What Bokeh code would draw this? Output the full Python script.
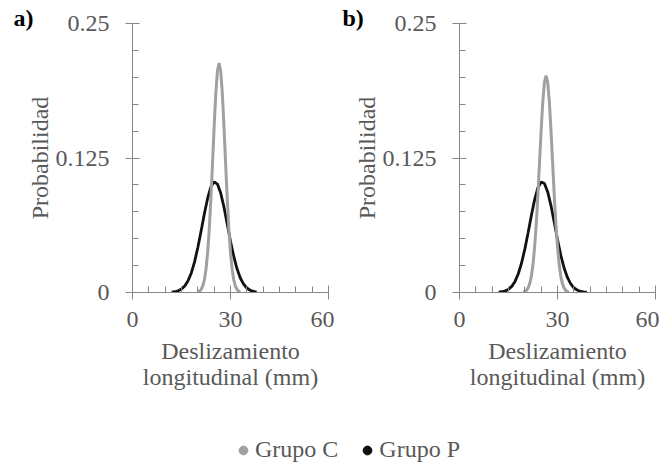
from bokeh.plotting import figure
from bokeh.models import (Range1d, FixedTicker, CustomJSTickFormatter, Title,
                          Legend, LegendItem)
from bokeh.layouts import row, column
from bokeh.embed import file_html
from bokeh.resources import INLINE

# ---------------- data ----------------
x_ticks = [0, 30, 60]
x_minor = [0, 5, 10, 15, 20, 25, 30, 35, 40, 45, 50, 55, 60]
y_ticks = [0, 0.125, 0.25]
y_minor = [0, 0.025, 0.05, 0.075, 0.1, 0.125, 0.15, 0.175, 0.2, 0.225, 0.25]

# Panel a) Grupo C
a_c_x = [20, 20.5, 21, 21.5, 22, 22.5, 23, 23.5, 24, 24.5, 25, 25.5, 26, 26.5,
         27, 27.5, 28, 28.5, 29, 29.5, 30, 30.5, 31, 31.5, 32, 32.5, 33]
a_c_y = [0.0005, 0.0012, 0.0028, 0.0060, 0.0118, 0.0217, 0.0370, 0.0589, 0.0873,
         0.1204, 0.1546, 0.1849, 0.2058, 0.2133, 0.2058, 0.1849, 0.1546, 0.1204,
         0.0873, 0.0589, 0.0370, 0.0217, 0.0118, 0.0060, 0.0028, 0.0012, 0.0005]
# Panel a) Grupo P
a_p_x = [12, 13, 14, 15, 16, 17, 18, 19, 20, 21, 22, 23, 24, 25, 26, 27, 28, 29,
         30, 31, 32, 33, 34, 35, 36, 37, 38]
a_p_y = [0.0003, 0.0007, 0.0016, 0.0032, 0.0061, 0.0109, 0.0182, 0.0285, 0.0418,
         0.0572, 0.0732, 0.0876, 0.0982, 0.1029, 0.1008, 0.0924, 0.0793, 0.0636,
         0.0477, 0.0335, 0.0220, 0.0135, 0.0078, 0.0042, 0.0021, 0.0010, 0.0004]
# Panel b) Grupo C
b_c_x = [19.5, 20, 20.5, 21, 21.5, 22, 22.5, 23, 23.5, 24, 24.5, 25, 25.5, 26,
         26.5, 27, 27.5, 28, 28.5, 29, 29.5, 30, 30.5, 31, 31.5, 32, 32.5, 33, 33.5]
b_c_y = [0.0004, 0.0009, 0.0020, 0.0043, 0.0083, 0.0152, 0.0262, 0.0423, 0.0639,
         0.0908, 0.1210, 0.1512, 0.1774, 0.1952, 0.2015, 0.1952, 0.1774, 0.1512,
         0.1210, 0.0908, 0.0639, 0.0423, 0.0262, 0.0152, 0.0083, 0.0043, 0.0020,
         0.0009, 0.0004]
# Panel b) Grupo P
b_p_x = [12, 13, 14, 15, 16, 17, 18, 19, 20, 21, 22, 23, 24, 25, 26, 27, 28, 29,
         30, 31, 32, 33, 34, 35, 36, 37, 38, 39]
b_p_y = [0.0003, 0.0007, 0.0015, 0.0030, 0.0057, 0.0103, 0.0174, 0.0274, 0.0403,
         0.0556, 0.0716, 0.0863, 0.0974, 0.1027, 0.1013, 0.0935, 0.0808, 0.0652,
         0.0493, 0.0348, 0.0230, 0.0142, 0.0082, 0.0044, 0.0023, 0.0011, 0.0005,
         0.0002]

series_names = ["Grupo C", "Grupo P"]
panel_tags = ["a)", "b)"]
x_title = "Deslizamiento\nlongitudinal (mm)"
y_title = "Probabilidad"

# ---------------- styles ----------------
FONT = "Liberation Serif"
TXT = "#595959"
AXC = "#868686"
C_COL = "#a0a0a0"
P_COL = "#111111"


def panel(tag, tag_off, cx, cy, px, py, width, left, right):
    p = figure(width=width, height=400, output_backend="svg", toolbar_location=None,
               x_range=Range1d(0, 60), y_range=Range1d(0, 0.25),
               min_border_left=left, min_border_right=right,
               min_border_top=23, min_border_bottom=108)
    p.title = Title(text=tag, align="left", offset=tag_off, standoff=-14,
                    text_font=FONT, text_font_size="24px",
                    text_font_style="bold", text_color="black")
    p.outline_line_color = None
    p.xgrid.visible = False
    p.ygrid.visible = False
    p.xaxis.ticker = FixedTicker(ticks=x_ticks, minor_ticks=x_minor)
    p.yaxis.ticker = FixedTicker(ticks=y_ticks, minor_ticks=y_minor)
    fmt = CustomJSTickFormatter(code="return String(tick)")
    p.xaxis.formatter = fmt
    p.yaxis.formatter = fmt
    for ax in (p.xaxis, p.yaxis):
        ax.axis_line_color = AXC
        ax.major_tick_line_color = AXC
        ax.minor_tick_line_color = AXC
        ax.major_tick_in = 7
        ax.major_tick_out = 7
        ax.minor_tick_in = 6
        ax.minor_tick_out = 0
        ax.major_label_text_font = FONT
        ax.major_label_text_font_size = "24px"
        ax.major_label_text_color = TXT
        ax.axis_label_text_font = FONT
        ax.axis_label_text_font_size = "24px"
        ax.axis_label_text_font_style = "normal"
        ax.axis_label_text_color = TXT
    p.xaxis.axis_label = x_title
    p.yaxis.axis_label = y_title
    p.xaxis.axis_label_text_line_height = 1.0
    p.xaxis.major_label_standoff = 12
    p.yaxis.major_label_standoff = 16
    p.xaxis.axis_label_standoff = 8
    p.yaxis.axis_label_standoff = 0
    p.line(px, py, line_color=P_COL, line_width=2.8)
    p.line(cx, cy, line_color=C_COL, line_width=3)
    return p


pA = panel(panel_tags[0], -119, a_c_x, a_c_y, a_p_x, a_p_y, 334, 132, 6)
pB = panel(panel_tags[1], -117, b_c_x, b_c_y, b_p_x, b_p_y, 325, 125, 4)

pL = figure(width=659, height=64, output_backend="svg", toolbar_location=None,
            x_range=Range1d(0, 1), y_range=Range1d(0, 1),
            x_axis_location=None, y_axis_location=None, min_border=0)
pL.outline_line_color = None
pL.xgrid.visible = False
pL.ygrid.visible = False
rc = pL.scatter(x=[-10], y=[-10], marker="circle", size=9,
                fill_color=C_COL, line_color=C_COL)
rp = pL.scatter(x=[-10], y=[-10], marker="circle", size=9,
                fill_color=P_COL, line_color=P_COL)
leg = Legend(items=[LegendItem(label=series_names[0], renderers=[rc]),
                    LegendItem(label=series_names[1], renderers=[rp])],
             orientation="horizontal", location=(232, 1),
             label_text_font=FONT, label_text_font_size="24px",
             label_text_color=TXT, border_line_color=None,
             background_fill_alpha=0, glyph_width=22, glyph_height=22,
             label_standoff=1, spacing=18, padding=0, margin=0)
pL.add_layout(leg)

layout = column(row(pA, pB), pL)
open("out.html", "w").write(file_html(layout, INLINE))
